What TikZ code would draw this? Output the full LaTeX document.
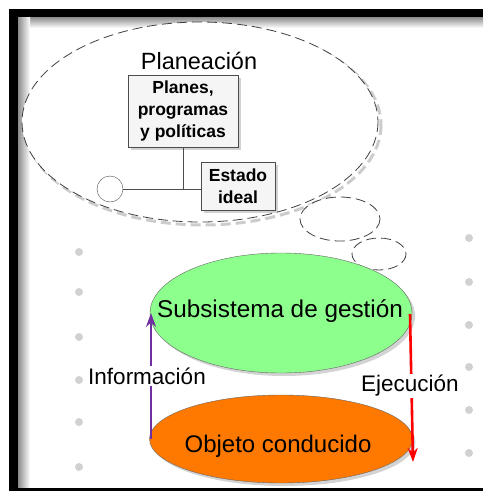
\documentclass[tikz,border=0pt]{standalone}
\usepackage{fontspec}
\setmainfont{Liberation Sans}
\usetikzlibrary{arrows.meta}
\usetikzlibrary{shadows}
\usetikzlibrary{shapes.geometric}

\begin{document}
\begin{tikzpicture}[x=1pt,y=-1pt,
	cloud line/.style={dashed, dash pattern=on 10pt off 5pt, draw=black!75, thick},
	plan box/.style={draw=black!70, fill=black!4, align=center, inner sep=1pt,
		font=\bfseries\fontsize{17.5}{22}\selectfont,
		drop shadow={opacity=0.35, shadow xshift=3pt, shadow yshift=-3pt}},
	sys ellipse/.style={ellipse, draw=black!60, inner sep=0pt,
		drop shadow={opacity=0.35, shadow xshift=3pt, shadow yshift=-3pt}},
	flow arrow/.style={-{Stealth[length=14pt,width=10pt]}, line width=2.6pt},
	flow label/.style={fill=white, inner sep=1.5pt, font=\fontsize{22.5}{25}\selectfont},
	grey dot/.style={circle, fill=black!18, inner sep=0pt, minimum size=8pt}]

	\useasboundingbox (0,0) rectangle (483,491);
	
	% frame
	\shade[top color=black!45, bottom color=white] (18,17) rectangle (483,28);
	\shade[left color=black!45, right color=white] (18,17) rectangle (30,487);
	\fill[black] (9,9) rectangle (483,17);
	\fill[black] (9,9) rectangle (18,491);
	\fill[black] (9,488) rectangle (483,491);
	
	% marks at the sides
	\foreach \y in {252,292,337,380,422,467}
		\node[grey dot] at (79,\y) {};
	\foreach \y in {238,282,325,367,410,453}
		\node[grey dot] at (469,\y) {};
	
	% thought cloud
	\draw[cloud line, draw=black!20, line width=3pt] (203,125) ellipse (178 and 100);
	\draw[cloud line, fill=white] (200,122) ellipse (178 and 100);
	\draw[cloud line, fill=white] (340,219) ellipse (40 and 22);
	\draw[cloud line, fill=white] (379,254) ellipse (27 and 16);
	
	\node[font=\fontsize{23.5}{27}\selectfont] (title) at (199,61) {Planeación};
	\node[plan box, minimum width=110pt, minimum height=72pt] (plan) at (183,111)
		{Planes,\\programas\\y políticas};
	\node[plan box, minimum width=74pt, minimum height=48pt] (ideal) at (238,186)
		{Estado\\ideal};
	\node[circle, draw=black!70, minimum size=26pt, inner sep=0pt] (state) at (110,189) {};
	
	\coordinate (joint) at (183,189);
	\draw[black!70] (plan.south) -- (joint);
	\draw[black!70] (state.east) -- (ideal.west |- joint);
	
	% system
	\node[sys ellipse, fill=green!45!white, minimum width=262pt, minimum height=120pt] (1) at (281,313) {};
	\node[sys ellipse, fill=orange!95!red, minimum width=263pt, minimum height=88pt] (2) at (281,439) {};
	\node[font=\fontsize{24.3}{28}\selectfont] at (280,311) {Subsistema de gestión};
	\node[font=\fontsize{24}{28}\selectfont] at (278,446) {Objeto conducido};
	
	\coordinate (info start) at (151,439);
	\coordinate (info end) at (151,313);
	\coordinate (exec start) at (410,314);
	\coordinate (exec end) at (413,462);
	\draw[flow arrow, color={rgb,255:red,112;green,48;blue,160}] (info start) -- (info end);
	\draw[flow arrow, red] (exec start) -- (exec end);
	
	\node[flow label] (info) at (147,376) {Información};
	\node[flow label] (exec) at (410,386) {Ejecución};
\end{tikzpicture}
\end{document}
